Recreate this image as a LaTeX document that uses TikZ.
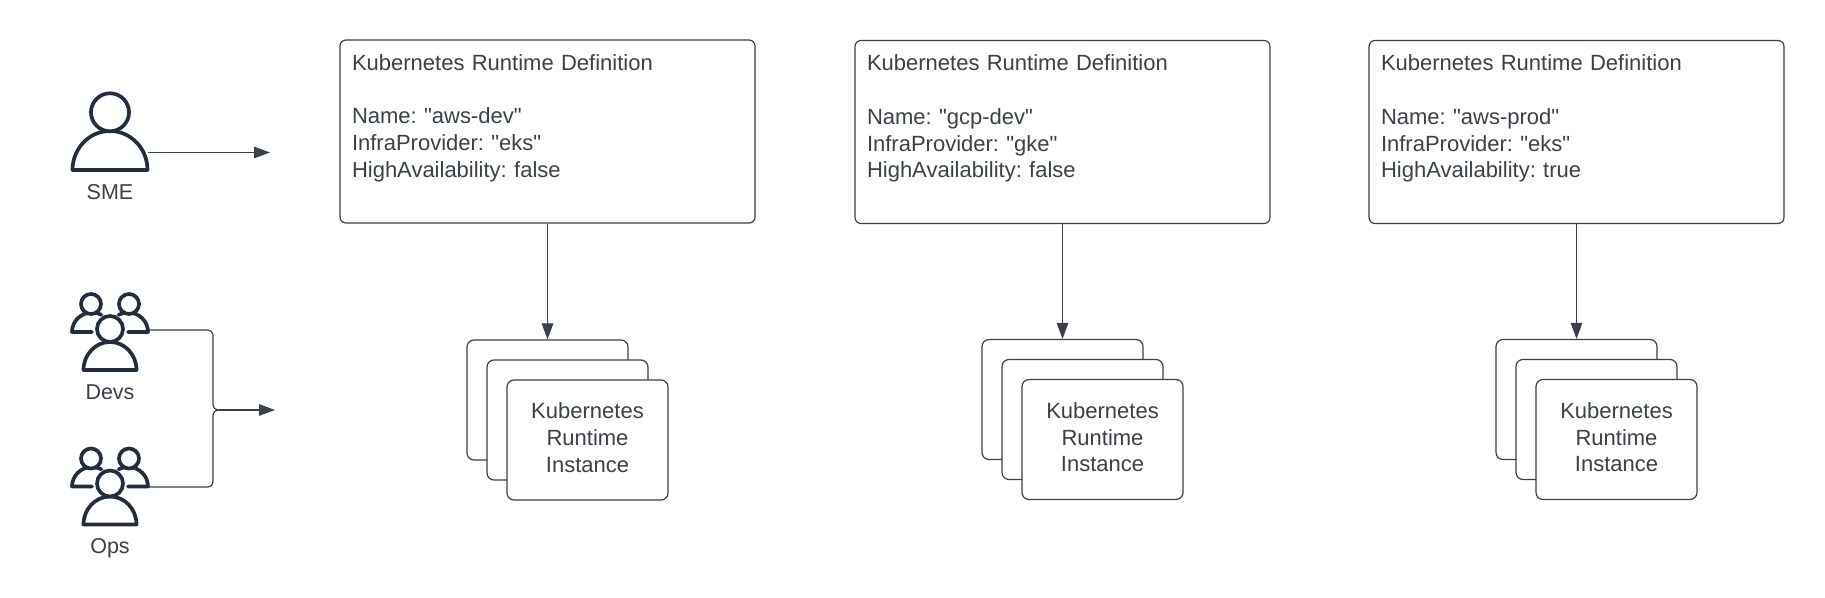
\documentclass[tikz,border=0pt]{standalone}
\usepackage{fontspec}
\setmainfont{Liberation Sans}[Ligatures=TeXOff]
\frenchspacing
\usetikzlibrary{arrows.meta}
\definecolor{linec}{HTML}{3A414A}
\definecolor{iconc}{HTML}{222E3E}
\definecolor{textc}{HTML}{3A414A}
\tikzset{
  defbox/.style={draw=linec,fill=white,line width=1.2pt,rounded corners=6pt,minimum width=415pt,minimum height=183pt,inner sep=0pt,
    text width=391pt,align=left,text=textc,font=\fontsize{22}{26.7}\selectfont},
  instbox/.style={draw=linec,fill=white,line width=1.2pt,rounded corners=7pt,minimum width=161pt,minimum height=120pt,inner sep=0pt,
    align=center,text=textc,font=\fontsize{22}{26.7}\selectfont},
  conn/.style={draw=linec,line width=1.2pt},
  arrowc/.style={conn,-{Triangle[length=16pt,width=11.5pt]}},
  iconline/.style={draw=iconc,line width=3.7pt,line join=round,fill=white},
  iconopen/.style={draw=iconc,line width=3.7pt,line join=round,line cap=round},
  iconlabel/.style={text=textc,inner sep=0pt,font=\fontsize{21.5}{26}\selectfont}
}
\newcommand{\singleperson}[2]{%
  \begin{scope}[shift={(#1,#2)}]
    \draw[iconline] (-37.5,0) arc[start angle=180,end angle=0,x radius=37.5,y radius=39] -- cycle;
    \draw[iconline] (0,57.7) circle[radius=19];
  \end{scope}}
\newcommand{\groupperson}[2]{%
  \begin{scope}[shift={(#1,#2)}]
    \draw[iconopen] (-18,38) -- (-38,38) arc[start angle=180,end angle=62,x radius=20,y radius=19.5];
    \draw[iconopen] (18,38) -- (38,38) arc[start angle=0,end angle=118,x radius=20,y radius=19.5];
    \draw[iconline] (-19,66) circle[radius=10];
    \draw[iconline] (19,66) circle[radius=10];
    \draw[iconline] (-26.5,0) arc[start angle=180,end angle=0,x radius=26.5,y radius=28] -- cycle;
    \draw[iconline] (0,41) circle[radius=13];
  \end{scope}}
\begin{document}
\begin{tikzpicture}[x=1pt,y=1pt]
\useasboundingbox (0,0) rectangle (1825,597);
% definition boxes
\node[defbox] (def1) at (547.5,465.5) {Kubernetes Runtime Definition\\ \mbox{}\\Name: "aws-dev"\\InfraProvider: "eks"\\HighAvailability: false\\[4.5pt] \mbox{}};
\node[defbox] (def2) at (1062.5,465) {Kubernetes Runtime Definition\\ \mbox{}\\Name: "gcp-dev"\\InfraProvider: "gke"\\HighAvailability: false\\[4.5pt] \mbox{}};
\node[defbox] (def3) at (1576.5,465) {Kubernetes Runtime Definition\\ \mbox{}\\Name: "aws-prod"\\InfraProvider: "eks"\\HighAvailability: true\\[4.5pt] \mbox{}};
% instance stacks
\node[instbox] (a1) at (547.5,197) {};
\node[instbox] (a2) at (567.5,177) {};
\node[instbox] (a3) at (587.5,157) {Kubernetes\\Runtime\\Instance\\[-22pt]\mbox{}};
\node[instbox] (b1) at (1062.5,197.5) {};
\node[instbox] (b2) at (1082.5,177.5) {};
\node[instbox] (b3) at (1102.5,157.5) {Kubernetes\\Runtime\\Instance\\[-22pt]\mbox{}};
\node[instbox] (c1) at (1576.5,197.5) {};
\node[instbox] (c2) at (1596.5,177.5) {};
\node[instbox] (c3) at (1616.5,157.5) {Kubernetes\\Runtime\\Instance\\[-22pt]\mbox{}};
% vertical arrows
\draw[arrowc] (def1.south) -- (a1.north);
\draw[arrowc] (def2.south) -- (b1.north);
\draw[arrowc] (def3.south) -- (c1.north);
% people
\singleperson{110}{427}
\groupperson{110}{227}
\groupperson{110}{72.5}
\node[iconlabel] (sme) at (110,405) {SME};
\node[iconlabel] (devs) at (110,205) {Devs};
\node[iconlabel] (ops) at (110,49) {Ops};
% connectors
\coordinate (smeout) at (148,444.5);
\coordinate (smeend) at (270,444.5);
\coordinate (devout) at (149,267);
\coordinate (opsout) at (149,110);
\coordinate (joint) at (213,187);
\coordinate (jointr) at (219,187);
\coordinate (groupend) at (275,187);
\draw[arrowc] (smeout) -- (smeend);
\draw[conn,rounded corners=5pt] (devout) -| (joint) -- (jointr);
\draw[conn,rounded corners=5pt] (opsout) -| (joint) -- (jointr);
\draw[arrowc] (jointr) -- (groupend);
\end{tikzpicture}
\end{document}
